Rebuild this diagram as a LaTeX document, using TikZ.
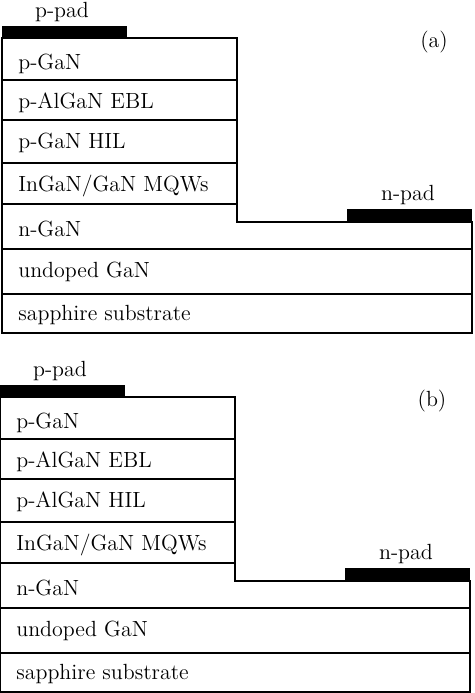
\documentclass[tikz,border=0pt]{standalone}
\usepackage{tikz}
\usetikzlibrary{positioning}

\begin{document}
\begin{tikzpicture}[x=0.02cm,y=-0.02cm, lay/.style={anchor=west,font=\fontsize{12.5}{15}\selectfont,inner sep=0pt}, lbl/.style={font=\fontsize{12.5}{15}\selectfont,inner sep=1pt}, edge/.style={line width=1pt}]
\useasboundingbox (0,0) rectangle (474,693);
\foreach \p/\dx/\dy/\hil in {a/0/0/p-GaN HIL, b/-2/359/p-AlGaN HIL}{
  \begin{scope}[shift={(\dx,\dy)}]
    % contacts
    \fill (2,26) rectangle (127,38);
    \fill (347,209) rectangle (472,222);
    \node[lbl] (\p-ppad) at (62,12) {p-pad};
    \node[lbl] (\p-npad) at (408,195) {n-pad};
    \node[lbl] (\p-tag) at (434,42) {(\p)};
    % mesa outline and layers
    \draw[edge] (2,38) -- (237,38) -- (237,222) -- (472,222) -- (472,333) -- (2,333) -- cycle;
    \draw[edge] (2,80) -- (237,80);
    \draw[edge] (2,120) -- (237,120);
    \draw[edge] (2,163) -- (237,163);
    \draw[edge] (2,204) -- (237,204);
    \draw[edge] (2,249) -- (472,249);
    \draw[edge] (2,294) -- (472,294);
    \node[lay] (\p-pgan) at (18,64) {p-GaN};
    \node[lay] (\p-ebl) at (18,103) {p-AlGaN EBL};
    \node[lay] (\p-hil) at (18,143) {\hil};
    \node[lay] (\p-mqw) at (18,186) {InGaN/GaN MQWs};
    \node[lay] (\p-ngan) at (18,229) {n-GaN};
    \node[lay] (\p-ugan) at (18,272) {undoped GaN};
    \node[lay] (\p-sub) at (18,315) {sapphire substrate};
  \end{scope}
}
\end{tikzpicture}
\end{document}
